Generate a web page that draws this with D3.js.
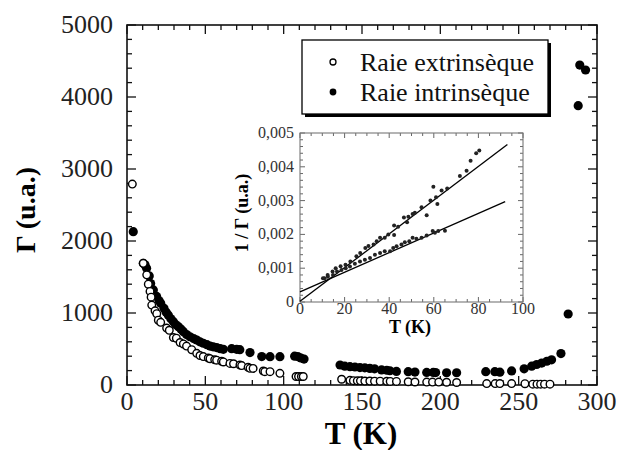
<!DOCTYPE html>
<html><head><meta charset="utf-8">
<script src="https://cdn.jsdelivr.net/npm/d3@7"></script>
<style>body{margin:0;background:#fff}svg{display:block}</style>
</head><body><svg id="c" width="617" height="450" font-family="Liberation Serif"></svg>
<script>
// ---- data ----
const extrT = [3.4,10.4,12.6,13.6,14.7,15.4,15.8,17.9,19,20,21.5,25.3,27,29.6,31.5,33.9,36,38,41.3,44.5,46.6,48.7,51.9,53,56,57.2,60.4,61.5,65.7,68,72.1,73.2,77.3,78.5,80.5,87,88,91.3,97.6,107.9,109.5,111.3,112.5,137,142.3,144.5,147,149,151.8,155,158,161.6,165.8,168,172,179.5,183.8,191.3,195,199,204,210.4,229.6,235,238,245.5,254,259,261.7,264,266.5,270];
const extrG = [2790,1690,1530,1400,1300,1220,1110,1030,990,900,870,790,760,660,650,590,570,540,490,440,410,395,375,365,350,345,330,320,300,295,278,270,245,231,230,194,185,185,162,118,118,118,118,80,65,60,58,58,55,55,53,53,52,50,50,45,42,40,40,40,38,35,20,20,20,20,18,12,12,12,12,12];
const intrT = [4,10.4,11.5,12.5,14.2,15.1,16.8,18.9,20.5,21.5,23.6,25,26.4,28,29.6,31,32.8,34.5,36,38,40.2,42.5,44.5,46.5,48.7,51,53,55,57.2,59.5,61.5,66.8,70,72,78.5,86,91.3,97.6,107,109,111,113,136,139,142.3,145.5,148.7,151.8,155,158,162.5,165.8,167.8,172,179.5,183.8,191.3,195.5,197,204,210.4,229,234.8,238,245.5,253.5,258.3,261.5,264.7,268,271,277,281.6,288,289,292.7];
const intrG = [2130,1690,1670,1620,1515,1410,1320,1230,1170,1135,1065,1010,970,920,880,840,810,775,740,700,670,645,625,600,580,560,540,530,520,505,495,505,495,490,450,395,393,393,400,395,375,360,278,262,255,250,242,238,230,225,210,205,198,188,185,180,175,175,172,170,170,185,185,178,195,225,262,285,305,330,350,437,986,3880,4444,4375];
// inset: 1/Gamma
const inExtrT = [11,12.4,14.6,16,18.2,20.4,22.6,25.3,27,29.3,30.7,33,34.4,35.9,38,39.6,42.2,42.2,44,46.6,48,48.6,50.5,51.5,54.5,56.8,58.5,59.8,61,61.6,63.5,66,71.7,74.7,76.5,79,80.4];
const inExtrV = [0.0007,0.0008,0.0009,0.001,0.00106,0.0011,0.0012,0.00135,0.00145,0.0016,0.00166,0.0017,0.0018,0.0019,0.0019,0.002,0.00226,0.00198,0.00223,0.0025,0.00236,0.00252,0.0026,0.00264,0.0028,0.00257,0.003,0.00341,0.0031,0.0029,0.0033,0.00336,0.00373,0.00388,0.00418,0.0044,0.00448];
const inIntrT = [10.3,12.5,14.8,16.6,18.6,20.5,22.4,24.6,26.9,29.1,31.4,33.6,35.9,38,40.4,41.8,43.3,45.5,47,49,50.5,52.2,54.5,56.8,59.5,60.5,62,65];
const inIntrV = [0.0007,0.00075,0.0008,0.0009,0.00095,0.001,0.00105,0.00113,0.0012,0.00125,0.0013,0.0014,0.00145,0.0015,0.0015,0.0016,0.00165,0.0017,0.00177,0.0018,0.0019,0.00187,0.0019,0.00197,0.0021,0.00205,0.0021,0.00211];
const fitExtrT = [0,93], fitExtrV = [0.00002,0.00466];
const fitIntrT = [0,92], fitIntrV = [0.0003,0.00297];
const xTicks = [0,50,100,150,200,250,300];
const yTicks = [0,1000,2000,3000,4000,5000];
const inXTicks = [0,20,40,60,80,100];
const inYTicks = [0,0.001,0.002,0.003,0.004,0.005];
const inYLabels = ["0","0,001","0,002","0,003","0,004","0,005"];
const legendLabels = ["Raie extrinsèque","Raie intrinsèque"];

const svg = d3.select("#c");
const M = {l:127,r:597,t:25,b:385};
const x = d3.scaleLinear().domain([0,300]).range([M.l,M.r]);
const y = d3.scaleLinear().domain([0,5000]).range([M.b,M.t]);

function ticksGroup(g, scale, vals, orient, len, pos){
  vals.forEach(v=>{
    const p = scale(v);
    if(orient==="b") g.append("line").attr("x1",p).attr("x2",p).attr("y1",pos).attr("y2",pos-len);
    if(orient==="t") g.append("line").attr("x1",p).attr("x2",p).attr("y1",pos).attr("y2",pos+len);
    if(orient==="l") g.append("line").attr("y1",p).attr("y2",p).attr("x1",pos).attr("x2",pos+len);
    if(orient==="r") g.append("line").attr("y1",p).attr("y2",p).attr("x1",pos).attr("x2",pos-len);
  });
}
// main frame ticks
const tg = svg.append("g").attr("stroke","#111").attr("stroke-width",1.3);
const xMin = d3.range(0,301,10).filter(v=>v%50!==0), yMin = d3.range(0,5001,200).filter(v=>v%1000!==0);
ticksGroup(tg,x,xTicks,"b",9,M.b); ticksGroup(tg,x,xMin,"b",5,M.b);
ticksGroup(tg,x,xTicks,"t",9,M.t); ticksGroup(tg,x,xMin,"t",5,M.t);
ticksGroup(tg,y,yTicks,"l",9,M.l); ticksGroup(tg,y,yMin,"l",5,M.l);
ticksGroup(tg,y,yTicks,"r",9,M.r); ticksGroup(tg,y,yMin,"r",5,M.r);
svg.append("rect").attr("x",M.l).attr("y",M.t).attr("width",M.r-M.l).attr("height",M.b-M.t)
  .attr("fill","none").attr("stroke","#111").attr("stroke-width",1.6);
// axis labels
svg.append("g").selectAll("text").data(xTicks).join("text")
  .attr("x",d=>x(d)).attr("y",410).attr("text-anchor","middle").attr("font-size",26).attr("fill","#222").text(d=>d);
svg.append("g").selectAll("text").data(yTicks).join("text")
  .attr("x",113).attr("y",d=>y(d)+8).attr("text-anchor","end").attr("font-size",26).attr("fill","#222").text(d=>d);
svg.append("text").attr("x",361).attr("y",444).attr("text-anchor","middle").attr("font-size",31).attr("font-weight","bold").text("T (K)");
svg.append("text").attr("transform","translate(35,210) rotate(-90)").attr("text-anchor","middle").attr("font-size",28).attr("font-weight","bold").text("Γ (u.a.)");

// main data
svg.append("g").selectAll("circle").data(intrT.map((t,i)=>[t,intrG[i]])).join("circle")
  .attr("cx",d=>x(d[0])).attr("cy",d=>y(d[1])).attr("r",4.6).attr("fill","#000");
svg.append("g").selectAll("circle").data(extrT.map((t,i)=>[t,extrG[i]])).join("circle")
  .attr("cx",d=>x(d[0])).attr("cy",d=>y(d[1])).attr("r",3.8).attr("fill","#fff").attr("stroke","#000").attr("stroke-width",1.4);

// legend
const lg = svg.append("g");
lg.append("rect").attr("x",305).attr("y",43).attr("width",246).attr("height",74).attr("fill","#000");
lg.append("rect").attr("x",302).attr("y",40).attr("width",246).attr("height",74).attr("fill","#fff").attr("stroke","#000").attr("stroke-width",1.3);
lg.append("circle").attr("cx",333).attr("cy",62).attr("r",3).attr("fill","#fff").attr("stroke","#000").attr("stroke-width",1.3);
lg.append("circle").attr("cx",333).attr("cy",92).attr("r",3.4).attr("fill","#000");
lg.selectAll("text").data(legendLabels).join("text").attr("x",360).attr("y",(d,i)=>71+i*30).attr("font-size",26).attr("fill","#111").text(d=>d);

// inset
const I = {l:300,r:523,t:133,b:302};
const ix = d3.scaleLinear().domain([0,100]).range([I.l,I.r]);
const iy = d3.scaleLinear().domain([0,0.005]).range([I.b,I.t]);
const ig = svg.append("g").attr("stroke","#666").attr("stroke-width",1);
const ixMin = d3.range(0,101,5).filter(v=>v%20!==0);
const iyMin = d3.range(0,5.01,0.2).map(v=>v/1000).filter((v,i)=>i%5!==0);
ticksGroup(ig,ix,inXTicks,"b",5,I.b); ticksGroup(ig,ix,ixMin,"b",3,I.b);
ticksGroup(ig,ix,inXTicks,"t",5,I.t); ticksGroup(ig,ix,ixMin,"t",3,I.t);
ticksGroup(ig,iy,inYTicks,"l",5,I.l); ticksGroup(ig,iy,iyMin,"l",3,I.l);
ticksGroup(ig,iy,inYTicks,"r",5,I.r); ticksGroup(ig,iy,iyMin,"r",3,I.r);
svg.append("rect").attr("x",I.l).attr("y",I.t).attr("width",I.r-I.l).attr("height",I.b-I.t)
  .attr("fill","none").attr("stroke","#777").attr("stroke-width",1.1);
svg.append("g").selectAll("text").data(inXTicks).join("text")
  .attr("x",d=>ix(d)).attr("y",314).attr("text-anchor","middle").attr("font-size",16).attr("fill","#333").text(d=>d);
svg.append("g").selectAll("text").data(inYTicks).join("text")
  .attr("x",294).attr("y",d=>iy(d)+5).attr("text-anchor","end").attr("font-size",16).attr("fill","#333").text((d,i)=>inYLabels[i]);
svg.append("text").attr("x",410).attr("y",333).attr("text-anchor","middle").attr("font-size",18).attr("font-weight","bold").text("T (K)");
svg.append("text").attr("transform","translate(248,213) rotate(-90)").attr("text-anchor","middle").attr("font-size",18).attr("font-weight","bold").text("1 / Γ (u.a.)");
const line = d3.line().x(d=>ix(d[0])).y(d=>iy(d[1]));
svg.append("path").attr("d",line(fitExtrT.map((t,i)=>[t,fitExtrV[i]]))).attr("stroke","#000").attr("stroke-width",1.3).attr("fill","none");
svg.append("path").attr("d",line(fitIntrT.map((t,i)=>[t,fitIntrV[i]]))).attr("stroke","#000").attr("stroke-width",1.3).attr("fill","none");
svg.append("g").selectAll("circle").data(inExtrT.map((t,i)=>[t,inExtrV[i]]).concat(inIntrT.map((t,i)=>[t,inIntrV[i]]))).join("circle")
  .attr("cx",d=>ix(d[0])).attr("cy",d=>iy(d[1])).attr("r",2).attr("fill","#222");
</script></body></html>
